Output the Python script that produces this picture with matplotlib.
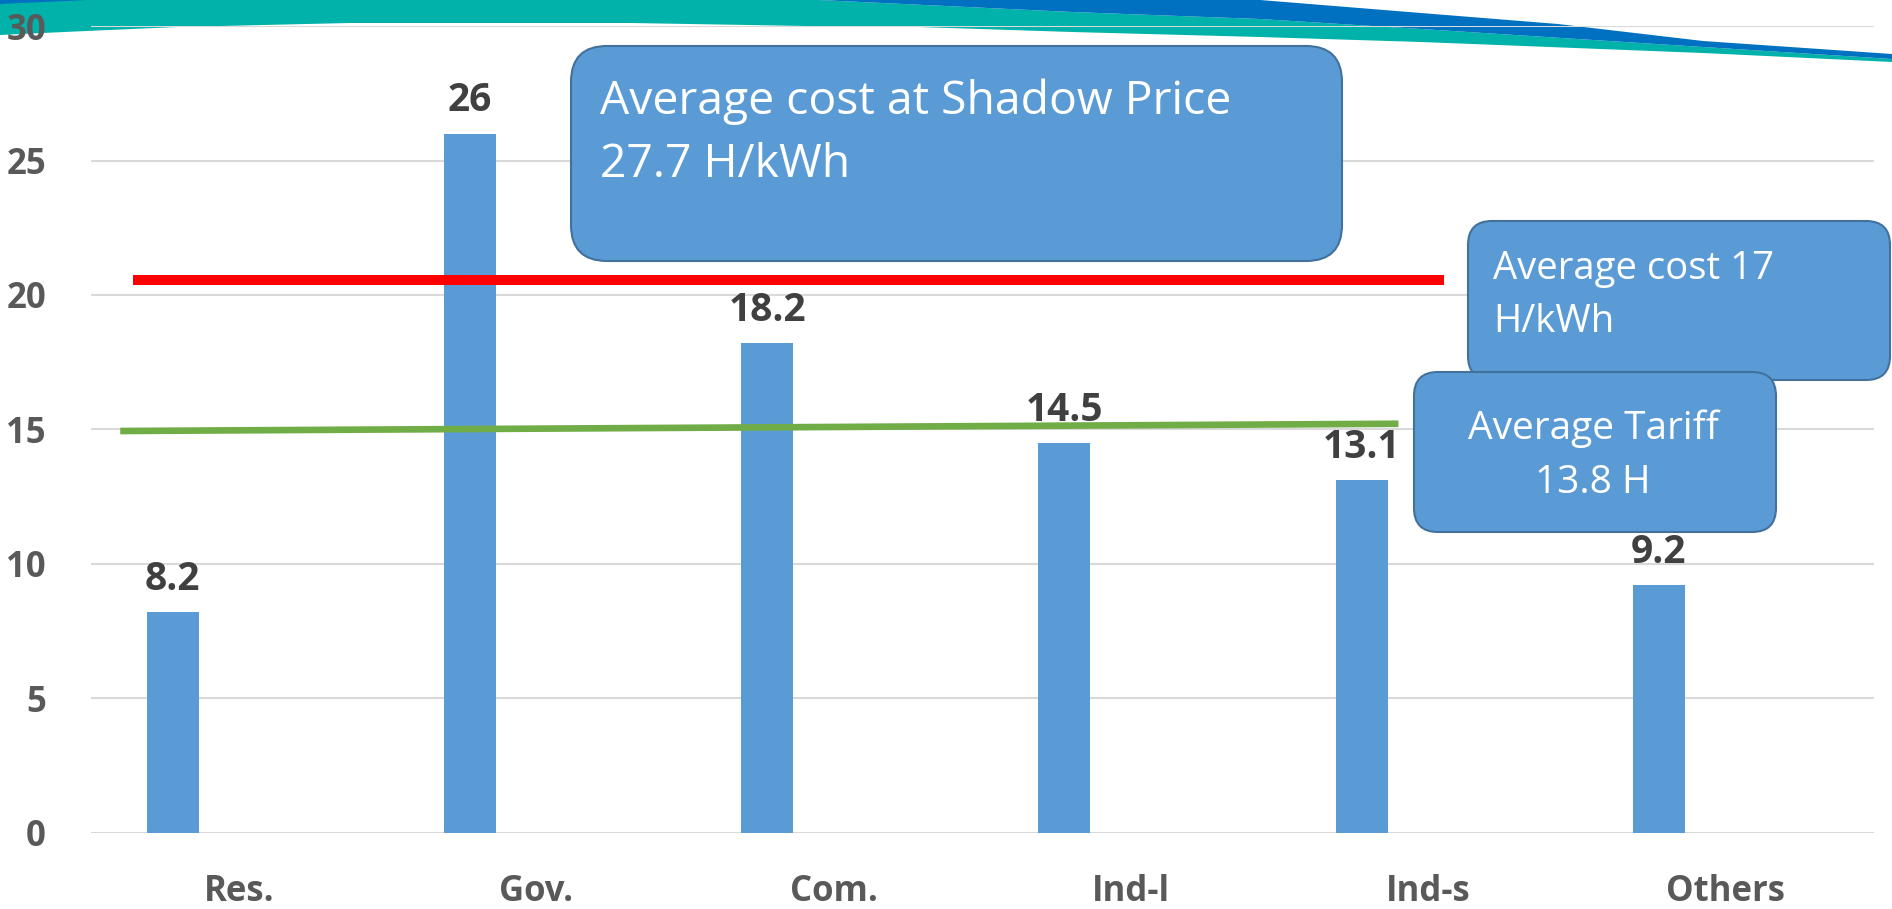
import matplotlib
matplotlib.use('Agg')
import matplotlib.pyplot as plt
from matplotlib.patches import FancyBboxPatch, Polygon
from matplotlib.transforms import Affine2D

# chart data
categories = ['Res.', 'Gov.', 'Com.', 'Ind-l', 'Ind-s', 'Others']
values = [8.2, 26, 18.2, 14.5, 13.1, 9.2]
value_labels = ['8.2', '26', '18.2', '14.5', '13.1', '9.2']
y_ticks = [0, 5, 10, 15, 20, 25, 30]

# the two reference lines drawn over the bars
cost_line_x = [-0.358, 4.053]
cost_line_y = [20.56, 20.56]
tariff_line_x = [-0.40, 3.90]
tariff_line_y = [14.94, 15.21]

# annotation boxes, one list of lines per box
shadow_text = ['Average cost at Shadow Price', '27.7 H/kWh']
cost_text = ['Average cost 17', 'H/kWh']
tariff_text = ['Average Tariff', '13.8 H']

W, H = 1892, 909
plt.rcParams['font.family'] = ['Open Sans', 'DejaVu Sans']

fig = plt.figure(figsize=(W / 100, H / 100), dpi=100)
fig.patch.set_facecolor('white')
# pixel coords with origin at top-left
img = Affine2D().scale(1, -1).translate(0, H)

# slide banner at the top
teal = Polygon([(0, 0), (819, 0), (1072, 12), (1260, 19), (1421, 29), (1703, 47),
                (1892, 59), (1892, 62), (1703, 53), (1421, 42), (1260, 37),
                (1072, 32), (919, 27), (807, 26), (630, 23), (350, 23),
                (177, 27), (64, 32), (0, 35)],
               closed=True, transform=img, facecolor='#00B2A9', edgecolor='none', zorder=0)
blue = Polygon([(819, 0), (1260, 0), (1421, 13), (1558, 24), (1703, 41), (1892, 54),
                (1892, 59), (1703, 47), (1421, 29), (1260, 19), (1072, 12)],
               closed=True, transform=img, facecolor='#0070C0', edgecolor='none', zorder=0)
wedge = Polygon([(0, 0), (88, 0), (0, 4)], closed=True, transform=img,
                facecolor='#0070C0', edgecolor='none', zorder=0)
for p in (teal, blue, wedge):
    fig.add_artist(p)

ax = fig.add_axes([90.5 / W, 1 - 832.6 / H, (1874 - 90.5) / W, (832.6 - 26.2) / H])
ax.set_facecolor('none')
ax.set_zorder(1)

x = list(range(len(categories)))
bar_x = [i - 0.2234 for i in x]
ax.bar(bar_x, values, width=0.175, color='#5B9BD5', zorder=2)

for bx, v, s in zip(bar_x, values, value_labels):
    ax.annotate(s, (bx, v), xytext=(0, 16), textcoords='offset points',
                ha='center', va='baseline', fontsize=28, fontweight='bold',
                color='#404040', zorder=4)

ax.plot(cost_line_x, cost_line_y, color='#FF0000', lw=7.2, solid_capstyle='butt', zorder=3)
ax.plot(tariff_line_x, tariff_line_y, color='#70AD47', lw=4.8, solid_capstyle='butt', zorder=3)

ax.set_xlim(-0.5, len(categories) - 0.5)
ax.set_ylim(0, 30)
ax.set_yticks(y_ticks)
ax.set_xticks(x)
ax.set_xticklabels(categories)
ax.grid(axis='y', color='#D9D9D9', lw=1.5, zorder=0)
ax.set_axisbelow(True)
for s in ax.spines.values():
    s.set_visible(False)
ax.tick_params(axis='both', length=0, colors='#595959', labelsize=25)
ax.tick_params(axis='y', pad=32)
ax.tick_params(axis='x', pad=30)
for lab in ax.get_xticklabels() + ax.get_yticklabels():
    lab.set_fontweight('bold')


# rounded annotation boxes (pixel coords, top-left origin)
def rbox(x0, y0, x1, y1, r):
    p = FancyBboxPatch((x0, y0), x1 - x0, y1 - y0,
                       boxstyle='round,pad=0,rounding_size=%d' % r,
                       transform=img, facecolor='#5B9BD5', edgecolor='#41719C',
                       lw=1.5, zorder=5)
    fig.add_artist(p)


def box_lines(lines, xpos, baselines, size, ha):
    for s, yb in zip(lines, baselines):
        fig.text(xpos, yb, s, transform=img, color='white', fontsize=size,
                 ha=ha, va='baseline', zorder=6)


rbox(571, 46, 1342, 261, 36)
box_lines(shadow_text, 600, [114, 177], 33.3, 'left')

rbox(1468, 221, 1890, 380, 24)
box_lines(cost_text, 1493, [279, 332], 27.5, 'left')

rbox(1414, 372, 1776, 532, 24)
box_lines(tariff_text, 1593, [439, 493], 28, 'center')

fig.savefig('out.png', dpi=100)
